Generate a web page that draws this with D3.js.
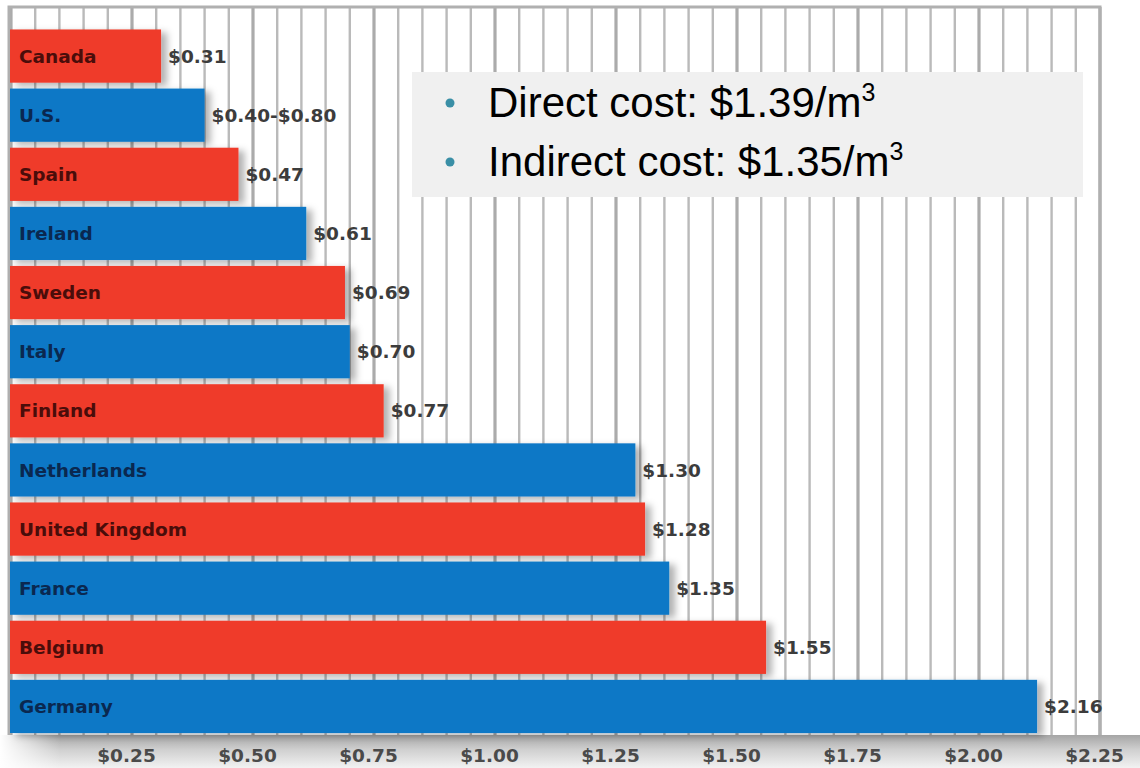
<!DOCTYPE html>
<html>
<head>
<meta charset="utf-8">
<script src="https://cdn.jsdelivr.net/npm/d3@7"></script>
<style>
  html, body { margin: 0; padding: 0; background: #fff; }
  body { width: 1140px; height: 768px; overflow: hidden; }
</style>
</head>
<body>
<div id="chart"></div>
<script>
// cost of water per m3, by country
const countries = ['Canada', 'U.S.', 'Spain', 'Ireland', 'Sweden', 'Italy', 'Finland',
	'Netherlands', 'United Kingdom', 'France', 'Belgium', 'Germany'];
const barValues = [0.31, 0.40, 0.47, 0.61, 0.69, 0.70, 0.77, 1.29, 1.31, 1.36, 1.56, 2.12];
const valueLabels = ['$0.31', '$0.40-$0.80', '$0.47', '$0.61', '$0.69', '$0.70', '$0.77',
	'$1.30', '$1.28', '$1.35', '$1.55', '$2.16'];
const tickValues = [0.25, 0.50, 0.75, 1.00, 1.25, 1.50, 1.75, 2.00, 2.25];
const legendLines = [['Direct cost: $1.39/m', '3'], ['Indirect cost: $1.35/m', '3']];

const width = 1140, height = 768;
const red = '#ef3b2a', blue = '#0f78c6';
const boldFont = '"DejaVu Sans", sans-serif';

const svg = d3.select('#chart').append('svg')
	.attr('width', width)
	.attr('height', height);

const defs = svg.append('defs');
const shadow = defs.append('filter').attr('id', 'shadow')
	.attr('x', '-5%').attr('y', '-20%').attr('width', '115%').attr('height', '150%');
shadow.append('feDropShadow')
	.attr('dx', 6).attr('dy', 3).attr('stdDeviation', 3.5)
	.attr('flood-color', '#000').attr('flood-opacity', 0.3);

const band = defs.append('linearGradient').attr('id', 'band')
	.attr('x1', 0).attr('y1', 0).attr('x2', 0).attr('y2', 1);
band.append('stop').attr('offset', '0%').attr('stop-color', '#a5a5a5');
band.append('stop').attr('offset', '45%').attr('stop-color', '#d0d0d0');
band.append('stop').attr('offset', '100%').attr('stop-color', '#f2f2f2');

const fade = defs.append('linearGradient').attr('id', 'fade')
	.attr('x1', 0).attr('y1', 0).attr('x2', 1).attr('y2', 0);
fade.append('stop').attr('offset', '0%').attr('stop-color', '#fff').attr('stop-opacity', 1);
fade.append('stop').attr('offset', '100%').attr('stop-color', '#fff').attr('stop-opacity', 0);

const x = d3.scaleLinear().domain([0, 2.25]).range([11, 1100]);
const y = d3.scaleBand().domain(countries).range([26.5, 736])
	.paddingInner(0.1).paddingOuter(0.05);

const plotTop = 7, plotBottom = 735;

// bottom shaded band
svg.append('rect')
	.attr('x', 0).attr('y', plotBottom).attr('width', width).attr('height', height - plotBottom)
	.attr('fill', 'url(#band)');
svg.append('rect')
	.attr('x', 0).attr('y', plotBottom).attr('width', 60).attr('height', height - plotBottom)
	.attr('fill', 'url(#fade)');

// grid lines every 0.05
const gridVals = d3.range(0, 46).map(i => i * 0.05);
svg.append('g').selectAll('line').data(gridVals).join('line')
	.attr('x1', d => x(d)).attr('x2', d => x(d))
	.attr('y1', plotTop).attr('y2', plotBottom)
	.attr('stroke', (d, i) => i % 5 === 0 ? '#ababab' : '#bababa')
	.attr('stroke-width', (d, i) => i % 5 === 0 ? 3.2 : 2.4);

// frame
svg.append('path')
	.attr('d', `M${x(0) - 2},${plotBottom} V${plotTop} H${x(2.25)} V${plotBottom}`)
	.attr('fill', 'none').attr('stroke', '#b0b0b0').attr('stroke-width', 3);

// bars
const rows = svg.append('g').selectAll('g').data(countries).join('g');
rows.append('rect')
	.attr('x', x(0) - 1)
	.attr('y', d => y(d))
	.attr('width', (d, i) => x(barValues[i]) - x(0) + 1)
	.attr('height', y.bandwidth())
	.attr('fill', (d, i) => i % 2 === 0 ? red : blue)
	.attr('filter', 'url(#shadow)');

rows.append('text')
	.attr('x', 19)
	.attr('y', d => y(d) + y.bandwidth() / 2)
	.attr('dy', '0.36em')
	.style('font-family', boldFont)
	.attr('font-size', 18.5).attr('font-weight', 'bold')
	.attr('fill', (d, i) => i % 2 === 0 ? '#4a0d0a' : '#0a2850')
	.text(d => d);

rows.append('text')
	.attr('x', (d, i) => x(barValues[i]) + 7)
	.attr('y', d => y(d) + y.bandwidth() / 2)
	.attr('dy', '0.36em')
	.style('font-family', boldFont)
	.attr('font-size', 18.5).attr('font-weight', 'bold')
	.attr('fill', '#3c3c3c')
	.text((d, i) => valueLabels[i]);

// x axis
const xAxis = d3.axisBottom(x)
	.tickValues(tickValues)
	.tickSize(0)
	.tickFormat(d => '$' + d3.format('.2f')(d));
const xAxisG = svg.append('g')
	.attr('class', 'x-axis')
	.attr('transform', `translate(-6,${plotBottom + 11})`)
	.call(xAxis);
xAxisG.select('.domain').remove();
xAxisG.selectAll('text')
	.style('font-family', boldFont)
	.attr('font-size', 18.5).attr('font-weight', 'bold')
	.attr('fill', '#4a4a4a');

// legend box
const legend = svg.append('g');
legend.append('rect')
	.attr('x', 412).attr('y', 72).attr('width', 671).attr('height', 125)
	.attr('fill', '#f0f0f0');
const items = legend.selectAll('g').data(legendLines).join('g')
	.attr('transform', (d, i) => `translate(0,${117 + i * 59})`);
items.append('circle')
	.attr('cx', 450).attr('cy', -14).attr('r', 4.5)
	.attr('fill', '#3a8fa6');
const lt = items.append('text')
	.attr('x', 488).attr('y', 0)
	.style('font-family', '"Liberation Sans", Arial, sans-serif')
	.attr('font-size', 42).attr('fill', '#000');
lt.append('tspan').text(d => d[0]);
lt.append('tspan').attr('font-size', 25).attr('dy', -16).text(d => d[1]);
</script>
</body>
</html>
